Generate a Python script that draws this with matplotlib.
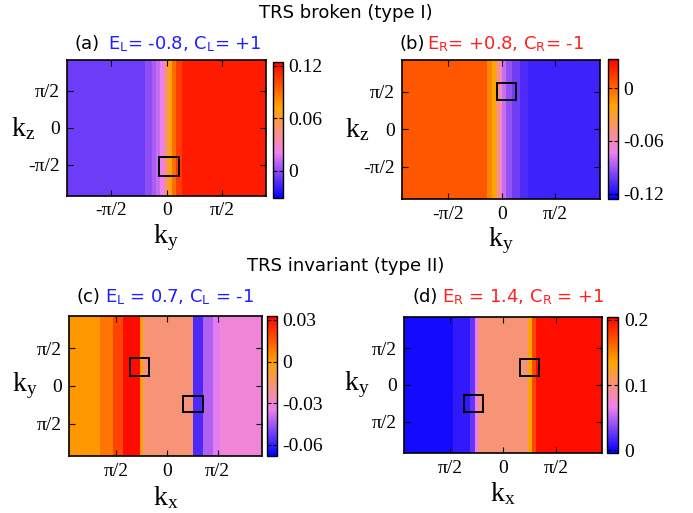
import numpy as np
import matplotlib
matplotlib.use("Agg")
import matplotlib.pyplot as plt
from matplotlib.colors import LinearSegmentedColormap
from matplotlib.patches import Rectangle

plt.rcParams['font.family'] = ['DejaVu Sans']
plt.rcParams['mathtext.fontset'] = 'custom'
plt.rcParams['mathtext.rm'] = 'Liberation Serif'
plt.rcParams['mathtext.it'] = 'Liberation Serif:italic'
plt.rcParams['mathtext.sf'] = 'DejaVu Sans'

# column profiles: strip edges along the horizontal k axis and the value in each strip
a_edges = [-2.84, -0.62, -0.42, -0.30, -0.19, -0.05, 0.07, 0.15, 0.26, 0.43, 2.81]
a_vals = [-0.007, 0.0, 0.006, 0.012, 0.02, 0.054, 0.072, 0.09, 0.105, 0.115]
b_edges = [-2.93, -0.43, -0.29, -0.17, -0.06, 0.02, 0.13, 0.30, 0.54, 0.78, 2.90]
b_vals = [0.005, -0.01, -0.02, -0.047, -0.066, -0.081, -0.093, -0.101, -0.108, -0.112]
c_edges = [-3.01, -2.06, -1.66, -1.35, -0.82, -0.73, 0.81, 1.12, 1.43, 1.65, 2.95]
c_vals = [0.002, 0.0086, 0.019, 0.031, 0.0, -0.0175, -0.057, -0.043, -0.036, -0.031]
d_edges = [-2.94, -1.49, -0.99, -0.84, -0.75, 0.73, 0.84, 0.97, 2.94]
d_vals = [0.002, 0.01, 0.025, 0.065, 0.1005, 0.135, 0.175, 0.199]

# vertical extent of each map
a_ylim = [-2.88, 2.89]
b_ylim = [-2.92, 2.90]
c_ylim = [-2.93, 2.94]
d_ylim = [-2.90, 2.92]

# colour ranges
a_clim = [-0.031, 0.124]
b_clim = [-0.126, 0.033]
c_clim = [-0.068, 0.033]
d_clim = [-0.004, 0.205]
a_cticks = [0, 0.06, 0.12]
b_cticks = [-0.12, -0.06, 0]
c_cticks = [-0.06, -0.03, 0, 0.03]
d_cticks = [0, 0.1, 0.2]

# boxes: (x0, y0, width, height)
a_boxes = [(-0.21, -2.03, 0.56, 0.77)]
b_boxes = [(-0.13, 1.22, 0.54, 0.70)]
c_boxes = [(-1.13, 0.42, 0.59, 0.74), (0.51, -1.10, 0.60, 0.69)]
d_boxes = [(0.50, 0.39, 0.57, 0.71), (-1.16, -1.16, 0.57, 0.72)]

kticks = [-np.pi / 2, 0, np.pi / 2]
ticklab_ab = ['-π/2', '0', 'π/2']
ticklab_cd = ['π/2', '0', 'π/2']

cmap = LinearSegmentedColormap.from_list(
    'bvor', [(0, '#0000ff'), (1 / 3, '#ee82ee'), (2 / 3, '#ffa500'), (1, '#ff0000')])

fig = plt.figure(figsize=(6.93, 5.13), dpi=100)

panels = [
    dict(edges=a_edges, vals=a_vals, ylim=a_ylim, clim=a_clim, cticks=a_cticks, boxes=a_boxes,
         ax=[0.0962, 0.6189, 0.2872, 0.2641], cax=[0.3939, 0.6140, 0.0144, 0.2651],
         xl=r'$\mathrm{k_y}$', yl=r'$\mathrm{k_z}$', tl=ticklab_ab, lab=(-0.22, -0.31)),
    dict(edges=b_edges, vals=b_vals, ylim=b_ylim, clim=b_clim, cticks=b_cticks, boxes=b_boxes,
         ax=[0.5805, 0.6121, 0.2853, 0.2710], cax=[0.8769, 0.6121, 0.0144, 0.2729],
         xl=r'$\mathrm{k_y}$', yl=r'$\mathrm{k_z}$', tl=ticklab_ab, lab=(-0.23, -0.30)),
    dict(edges=c_edges, vals=c_vals, ylim=c_ylim, clim=c_clim, cticks=c_cticks, boxes=c_boxes,
         ax=[0.1000, 0.1111, 0.2785, 0.2735], cax=[0.3853, 0.1111, 0.0137, 0.2735],
         xl=r'$\mathrm{k_x}$', yl=r'$\mathrm{k_y}$', tl=ticklab_cd, lab=(-0.23, -0.29)),
    dict(edges=d_edges, vals=d_vals, ylim=d_ylim, clim=d_clim, cticks=d_cticks, boxes=d_boxes,
         ax=[0.5834, 0.1175, 0.2857, 0.2651], cax=[0.8755, 0.1175, 0.0167, 0.2651],
         xl=r'$\mathrm{k_x}$', yl=r'$\mathrm{k_y}$', tl=ticklab_cd, lab=(-0.24, -0.30)),
]

for p in panels:
    ax = fig.add_axes(p['ax'])
    z = np.array([p['vals'], p['vals']])
    mesh = ax.pcolormesh(p['edges'], [p['ylim'][0], 0, p['ylim'][1]], z,
                         cmap=cmap, vmin=p['clim'][0], vmax=p['clim'][1], shading='flat')
    ax.set_xlim(p['edges'][0], p['edges'][-1])
    ax.set_ylim(p['ylim'])
    for (x0, y0, w, h) in p['boxes']:
        ax.add_patch(Rectangle((x0, y0), w, h, fill=False, ec='black', lw=1.4))
    ax.set_xticks(kticks)
    ax.set_xticklabels(p['tl'], fontfamily='Liberation Serif', fontsize=14)
    ax.set_yticks(kticks)
    ax.set_yticklabels(p['tl'], fontfamily='Liberation Serif', fontsize=14)
    ax.tick_params(direction='in', top=True, right=True, length=4, width=0.8, pad=5)
    for s in ax.spines.values():
        s.set_linewidth(1.2)
    ax.set_xlabel(p['xl'], fontsize=20, va='center')
    ax.set_ylabel(p['yl'], fontsize=20, rotation=0, va='center', ha='center')
    ax.yaxis.set_label_coords(p['lab'][0], 0.5)
    ax.xaxis.set_label_coords(0.5, p['lab'][1])

    cax = fig.add_axes(p['cax'])
    cb = fig.colorbar(mesh, cax=cax)
    cb.set_ticks(p['cticks'])
    cb.set_ticklabels([f'{t:g}' for t in p['cticks']])
    cax.tick_params(direction='in', left=True, right=True, length=3, width=0.8,
                    labelsize=14, pad=4)
    for lbl in cax.get_yticklabels():
        lbl.set_fontfamily('Liberation Serif')
    cb.outline.set_linewidth(1.0)

W, H = 693, 513
fig.text(346 / W, 1 - 13 / H, 'TRS broken (type I)', ha='center', va='center', fontsize=13)
fig.text(346 / W, 1 - 266 / H, 'TRS invariant (type II)', ha='center', va='center', fontsize=13)

blue = '#2020ff'
red = '#ff2020'
heads = [
    ('(a)', 74, r'E$_\mathsf{L}$= -0.8, C$_\mathsf{L}$= +1', 108, 44, blue),
    ('(b)', 399, r'E$_\mathsf{R}$= +0.8, C$_\mathsf{R}$= -1', 427, 44, red),
    ('(c)', 77, r'E$_\mathsf{L}$ = 0.7, C$_\mathsf{L}$ = -1', 105, 297, blue),
    ('(d)', 413, r'E$_\mathsf{R}$ = 1.4, C$_\mathsf{R}$ = +1', 442, 297, red),
]
for tag, xt, txt, xs, y, col in heads:
    fig.text(xt / W, 1 - y / H, tag, ha='left', va='center', fontsize=13)
    fig.text(xs / W, 1 - y / H, txt, ha='left', va='center', fontsize=13, color=col)

fig.savefig('out.png', dpi=100)
